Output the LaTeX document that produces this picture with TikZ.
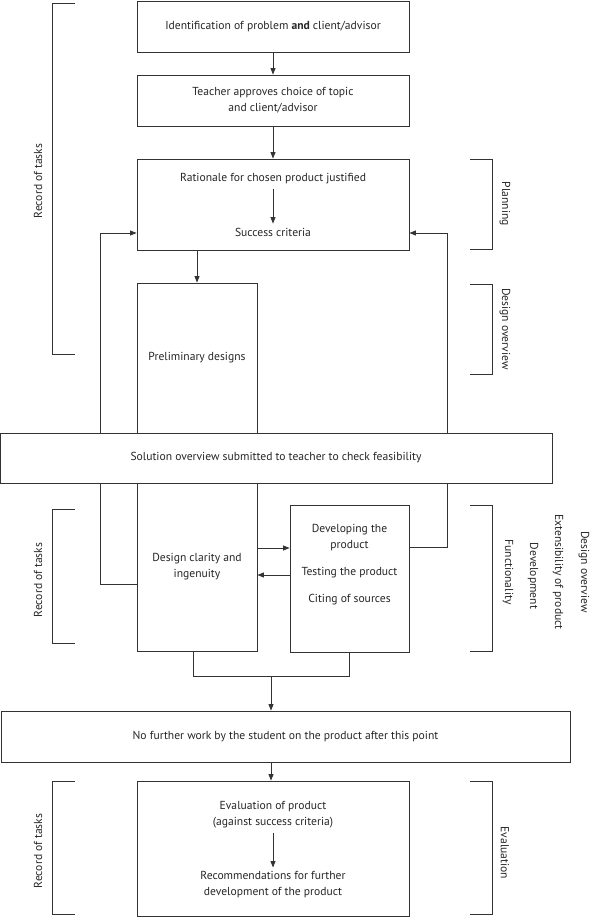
\documentclass[tikz,border=0pt]{standalone}
\usepackage{fontspec}
\setmainfont{PT Sans}
\usetikzlibrary{arrows.meta,backgrounds}
\begin{document}
\begin{tikzpicture}[x=1pt,y=-1pt,
  every node/.style={font=\fontsize{11.6}{14}\selectfont, text=black!85},
  box/.style={draw=black!80, line width=0.8pt, fill=white, inner sep=0pt, align=center},
  txt/.style={inner sep=0pt, align=center},
  arr/.style={draw=black!80, line width=0.8pt, -{Triangle[length=6.5pt,width=5pt]}},
  ln/.style={draw=black!80, line width=0.8pt},
  brk/.style={draw=black!80, line width=0.8pt},
  vl/.style={inner sep=0pt, rotate=90},
  vr/.style={inner sep=0pt, rotate=-90}]
\useasboundingbox (0,0) rectangle (591,917);

% boxes
\node[box, minimum width=272pt, minimum height=51pt] (b1) at (273,26.5) {Identification of problem \textbf{and} client/advisor};
\node[box, minimum width=272pt, minimum height=51pt] (b2) at (273,100.5) {Teacher approves choice of topic\\[2pt]and client/advisor};
\node[box, minimum width=272pt, minimum height=91pt] (b3) at (273,204.5) {};
\node[txt] (r1) at (273,179) {Rationale for chosen product justified};
\node[txt] (sc) at (273,232) {Success criteria};
\node[box, minimum width=120pt, minimum height=150pt] (pre) at (197,358) {Preliminary designs};
\node[box, minimum width=552pt, minimum height=50pt] (sol) at (276,458) {Solution overview submitted to teacher to check feasibility};
\node[box, minimum width=120pt, minimum height=168pt] (des) at (197,567) {Design clarity and\\[2pt]ingenuity};
\node[box, minimum width=119pt, minimum height=147pt] (dev) at (349.5,578.5) {};
\node[txt] (d1) at (349.5,538) {Developing the\\[2pt]product};
\node[txt] (d2) at (349.5,573) {Testing the product};
\node[txt] (d3) at (349.5,600) {Citing of sources};
\node[box, minimum width=569pt, minimum height=51pt] (nf) at (285.5,736.5) {No further work by the student on the product after this point};
\node[box, minimum width=272pt, minimum height=135pt] (ev) at (273,848.5) {};
\node[txt] (e1) at (273,815) {Evaluation of product\\[2pt](against success criteria)};
\node[txt] (e2) at (273,885) {Recommendations for further\\[2pt]development of the product};

% coordinates
\coordinate (L1) at (100,584);
\coordinate (L2) at (100,233);
\coordinate (R1) at (447,547);
\coordinate (R2) at (447,233);
\coordinate (A1) at (0,548);
\coordinate (A2) at (0,575);
\coordinate (M1) at (193,676);
\coordinate (M2) at (349.5,676);
\coordinate (M3) at (271,676);
\coordinate (T1) at (271,762);

% connectors
\draw[arr] (b1) -- (b2);
\draw[arr] (b2) -- (b3);
\draw[arr] ([yshift=-4pt]r1.south) -- ([yshift=4pt]sc.north);
\draw[arr] (pre.north |- b3.south) -- (pre.north);
\begin{scope}[on background layer]
\draw[arr] (des.west |- L1) -- (L1) -- (L2) -- (b3.west |- L2);
\draw[arr] (dev.east |- R1) -- (R1) -- (R2) -- (b3.east |- R2);
\end{scope}
\draw[arr] (des.east |- A1) -- (dev.west |- A1);
\draw[arr] (dev.west |- A2) -- (des.east |- A2);
\draw[ln] (des.south -| M1) -- (M1) -- (M2) -- (dev.south);
\draw[arr] (M3) -- (nf.north -| M3);
\draw[arr] (nf.south -| T1) -- (ev.north -| T1);
\draw[arr] ([yshift=-4pt]e1.south) -- ([yshift=4pt]e2.north);

% brackets left
\draw[brk] (75,3) -- (52,3) -- (52,354) -- (75,354);
\draw[brk] (75,509) -- (52,509) -- (52,643) -- (75,643);
\draw[brk] (75,781) -- (52,781) -- (52,914) -- (75,914);
\node[vl] (lr1) at (38,181) {Record of tasks};
\node[vl] (lr2) at (38,580) {Record of tasks};
\node[vl] (lr3) at (38,851) {Record of tasks};

% brackets right
\draw[brk] (470,159) -- (492,159) -- (492,249) -- (470,249);
\draw[brk] (470,284) -- (492,284) -- (492,374) -- (470,374);
\draw[brk] (470,505) -- (492,505) -- (492,651) -- (470,651);
\draw[brk] (470,781) -- (492,781) -- (492,914) -- (470,914);
\node[vr] (pl) at (505,204) {Planning};
\node[vr] (do) at (505,329) {Design overview};
\node[vr] (fu) at (508,572) {Functionality};
\node[vr] (dv) at (533,576) {Development};
\node[vr] (ex) at (558,572) {Extensibility of product};
\node[vr] (d4) at (584,572) {Design overview};
\node[vr] (evl) at (505,853) {Evaluation};
\end{tikzpicture}
\end{document}
